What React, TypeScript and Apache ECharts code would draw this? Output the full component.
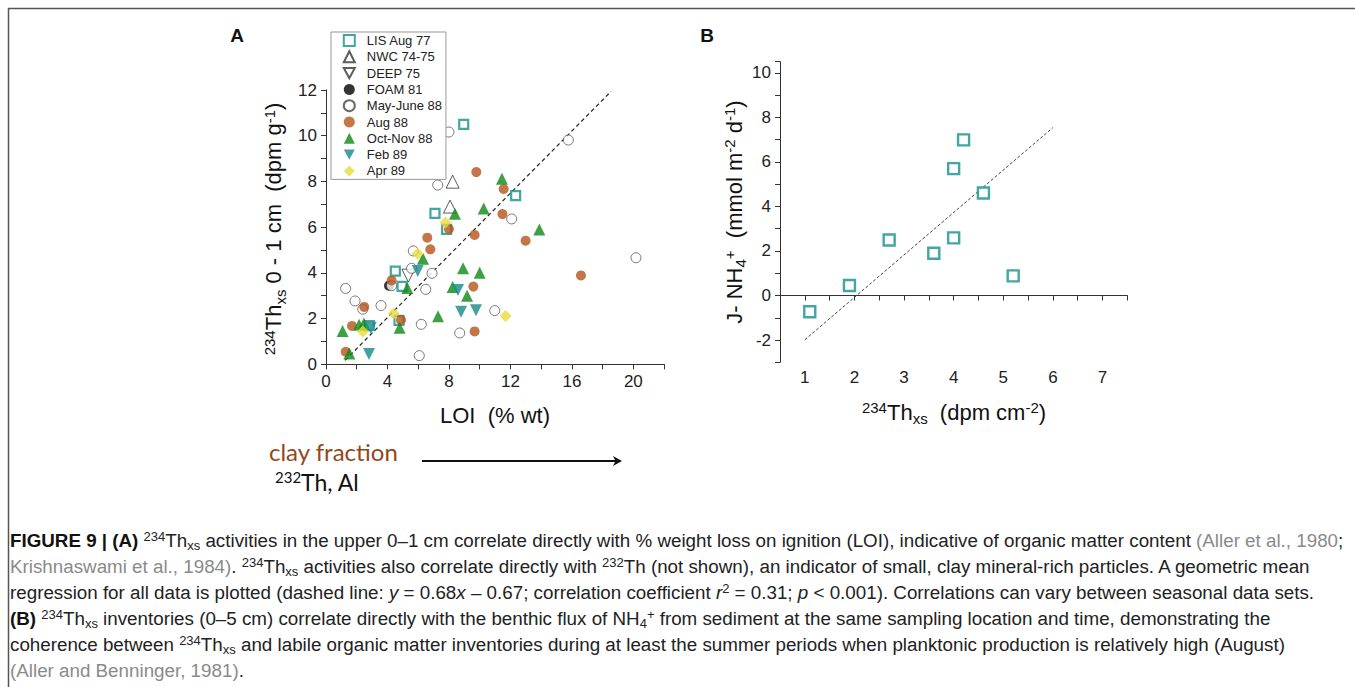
import React, { useEffect, useRef } from 'react';
import * as echarts from 'echarts';

const FONT = "'Liberation Sans', Arial, Helvetica, sans-serif";

// ---------- Panel A data: LOI (% wt) vs 234Th xs (dpm g-1) ----------
const lisX = [8.96, 12.34, 7.09, 7.85, 4.51, 4.95, 4.75, 2.82];
const lisY = [10.5, 7.38, 6.6, 5.9, 4.08, 3.41, 1.92, 1.69];
const nwcX = [8.24, 8.07];
const nwcY = [7.99, 6.9];
const deepX = [5.36];
const deepY = [3.88];
const foamX = [4.1];
const foamY = [3.44];
const mayX = [8.0, 15.77, 7.27, 12.08, 20.17, 5.68, 5.57, 6.9, 6.49, 4.27, 1.28, 1.89, 2.39, 3.58, 6.2, 10.98, 8.7, 6.07];
const mayY = [10.16, 9.81, 7.84, 6.36, 4.66, 4.96, 4.2, 3.98, 3.28, 3.44, 3.32, 2.77, 2.41, 2.57, 1.75, 2.35, 1.37, 0.38];
const aug88X = [9.78, 11.56, 11.48, 8.0, 9.67, 6.59, 6.79, 12.99, 16.59, 4.27, 9.59, 2.49, 1.69, 4.88, 9.67, 1.28];
const aug88Y = [8.41, 7.67, 6.57, 5.92, 5.66, 5.54, 5.03, 5.41, 3.89, 3.67, 3.4, 2.51, 1.68, 1.94, 1.44, 0.55];
const octX = [11.45, 10.26, 8.39, 13.88, 6.31, 8.92, 10.0, 5.29, 8.24, 9.18, 7.29, 1.08, 2.15, 2.47, 4.79, 1.52];
const octY = [8.12, 6.82, 6.59, 5.9, 4.62, 4.2, 4.01, 3.34, 3.38, 3.0, 2.1, 1.46, 1.73, 1.79, 1.6, 0.47];
const febX = [5.97, 8.59, 8.79, 9.76, 2.91, 2.8];
const febY = [4.08, 3.25, 2.3, 2.36, 1.6, 0.45];
const aprX = [7.77, 5.97, 4.4, 11.69, 2.39];
const aprY = [6.2, 4.84, 2.22, 2.11, 1.43];
const regAX = [1.24, 18.55];
const regAY = [0.17, 11.94];

// ---------- Panel B data: 234Th xs (dpm cm-2) vs J-NH4+ ----------
const bX = [1.1, 1.9, 2.7, 3.6, 4.0, 4.0, 4.2, 4.6, 5.2];
const bY = [-0.73, 0.45, 2.49, 1.9, 2.59, 5.7, 6.99, 4.6, 0.88];
const regBX = [1.0, 6.0];
const regBY = [-1.99, 7.54];

const legendNames = ['LIS Aug 77', 'NWC 74-75', 'DEEP 75', 'FOAM 81', 'May-June 88', 'Aug 88', 'Oct-Nov 88', 'Feb 89', 'Apr 89'];

const zip = (xs: number[], ys: number[]) => xs.map((x, i) => [x, ys[i]]);

const TEAL = '#13908b';
const DOWN = 'path://M0,0L12,0L6,11Z';

const stylesA: Record<string, any> = {
  'LIS Aug 77': { d: [lisX, lisY], symbol: 'rect', size: 9, itemStyle: { color: '#fff', borderColor: TEAL, borderWidth: 2.2 } },
  'NWC 74-75': { d: [nwcX, nwcY], symbol: 'triangle', size: 13, itemStyle: { color: '#fff', borderColor: '#333', borderWidth: 1 } },
  'DEEP 75': { d: [deepX, deepY], symbol: DOWN, size: 13, itemStyle: { color: '#fff', borderColor: '#333', borderWidth: 1 } },
  'FOAM 81': { d: [foamX, foamY], symbol: 'circle', size: 10, itemStyle: { color: '#000' } },
  'May-June 88': { d: [mayX, mayY], symbol: 'circle', size: 10, itemStyle: { color: '#fff', borderColor: '#444', borderWidth: 0.9 } },
  'Aug 88': { d: [aug88X, aug88Y], symbol: 'circle', size: 10, itemStyle: { color: '#b4541a' } },
  'Oct-Nov 88': { d: [octX, octY], symbol: 'triangle', size: 12, itemStyle: { color: '#0c8a14' } },
  'Feb 89': { d: [febX, febY], symbol: DOWN, size: 12, itemStyle: { color: '#15898a' } },
  'Apr 89': { d: [aprX, aprY], symbol: 'diamond', size: 12, itemStyle: { color: '#e6dc3a' } },
};

const tickLabel = { fontSize: 17, fontFamily: FONT, color: '#222' };
const axisLine = { show: true, lineStyle: { color: '#333', width: 1 } };

const T = 22; // title font
const S = 15; // sup/sub font
const titleRich = {
  n: { fontSize: T, fontFamily: FONT, fill: '#111', lineHeight: 24 },
  sup: { fontSize: S, fontFamily: FONT, fill: '#111', verticalAlign: 'top', height: 15, lineHeight: 15 },
  sub: { fontSize: S, fontFamily: FONT, fill: '#111', verticalAlign: 'bottom', height: 11, lineHeight: 11 },
};

const C = 18.8; // caption font
const CS = 13;
const capRich = {
  n: { fontSize: C, fontFamily: FONT, fill: '#222', lineHeight: 22 },
  b: { fontSize: C, fontFamily: FONT, fill: '#111', fontWeight: 'bold', lineHeight: 22 },
  g: { fontSize: C, fontFamily: FONT, fill: '#8a8a8a', lineHeight: 22 },
  i: { fontSize: C, fontFamily: FONT, fill: '#222', fontStyle: 'italic', lineHeight: 22 },
  sup: { fontSize: CS, fontFamily: FONT, fill: '#222', verticalAlign: 'top', height: 15, lineHeight: 15 },
  sub: { fontSize: CS, fontFamily: FONT, fill: '#222', verticalAlign: 'bottom', height: 12, lineHeight: 12 },
};

const captionLines = [
  '{b|FIGURE 9 | (A)}{n| }{sup|234}{n|Th}{sub|xs}{n| activities in the upper 0–1 cm correlate directly with % weight loss on ignition (LOI), indicative of organic matter content }{g|(Aller et al., 1980}{n|;}',
  '{g|Krishnaswami et al., 1984)}{n|. }{sup|234}{n|Th}{sub|xs}{n| activities also correlate directly with }{sup|232}{n|Th (not shown), an indicator of small, clay mineral-rich particles. A geometric mean}',
  '{n|regression for all data is plotted (dashed line: }{i|y}{n| = 0.68}{i|x}{n| – 0.67; correlation coefficient }{i|r}{sup|2}{n| = 0.31; }{i|p}{n| < 0.001). Correlations can vary between seasonal data sets.}',
  '{b|(B)}{n| }{sup|234}{n|Th}{sub|xs}{n| inventories (0–5 cm) correlate directly with the benthic flux of NH}{sub|4}{sup|+}{n| from sediment at the same sampling location and time, demonstrating the}',
  '{n|coherence between }{sup|234}{n|Th}{sub|xs}{n| and labile organic matter inventories during at least the summer periods when planktonic production is relatively high (August)}',
  '{g|(Aller and Benninger, 1981)}{n|.}',
];

function buildOption(): any {
  const series: any[] = legendNames.map((name) => {
    const s = stylesA[name];
    return {
      name,
      type: 'scatter',
      xAxisIndex: 0,
      yAxisIndex: 0,
      data: zip(s.d[0], s.d[1]),
      symbol: s.symbol,
      symbolSize: s.size,
      itemStyle: s.itemStyle,
      silent: true,
    };
  });
  series.push({
    name: 'regA',
    type: 'line',
    xAxisIndex: 0,
    yAxisIndex: 0,
    data: zip(regAX, regAY),
    symbol: 'none',
    lineStyle: { color: '#222', width: 1.2, type: [4, 3] },
    silent: true,
    z: 1,
  });
  series.push({
    name: 'B',
    type: 'scatter',
    xAxisIndex: 1,
    yAxisIndex: 1,
    data: zip(bX, bY),
    symbol: 'rect',
    symbolSize: 11,
    itemStyle: { color: '#fff', borderColor: TEAL, borderWidth: 2.4 },
    silent: true,
  });
  series.push({
    name: 'regB',
    type: 'line',
    xAxisIndex: 1,
    yAxisIndex: 1,
    data: zip(regBX, regBY),
    symbol: 'none',
    lineStyle: { color: '#444', width: 1, type: [3, 2] },
    silent: true,
    z: 1,
  });

  const captionGraphics = captionLines.map((t, i) => ({
    type: 'text',
    x: 10,
    y: 540 + i * 26,
    style: { text: t, rich: capRich, align: 'left', verticalAlign: 'middle', fontSize: C, fontFamily: FONT, fill: '#222' },
  }));

  return {
    animation: false,
    backgroundColor: '#fff',
    grid: [
      { left: 326, top: 90, width: 338.1, height: 274.3 },
      { left: 780, top: 61.7, width: 347.3, height: 300.6 },
    ],
    xAxis: [
      {
        type: 'value', gridIndex: 0, min: 0, max: 22, interval: 2,
        axisLine, splitLine: { show: false },
        axisTick: { show: true, length: 5, lineStyle: { color: '#333' } },
        axisLabel: { ...tickLabel, margin: 9, formatter: (v: number) => (v % 4 === 0 && v <= 20 ? String(v) : '') },
      },
      {
        type: 'value', gridIndex: 1, min: 0.5, max: 7.5, interval: 0.5,
        axisLine, splitLine: { show: false },
        axisTick: { show: true, length: 5, lineStyle: { color: '#333' } },
        axisLabel: { ...tickLabel, margin: 7, formatter: (v: number) => (Math.abs(v - Math.round(v)) < 1e-6 ? String(Math.round(v)) : '') },
      },
    ],
    yAxis: [
      {
        type: 'value', gridIndex: 0, min: 0, max: 12, interval: 1,
        axisLine, splitLine: { show: false },
        axisTick: { show: true, length: 5, lineStyle: { color: '#333' } },
        axisLabel: { ...tickLabel, margin: 9, formatter: (v: number) => (v % 2 === 0 ? String(v) : '') },
      },
      {
        type: 'value', gridIndex: 1, min: -3, max: 10.5, interval: 1,
        axisLine, splitLine: { show: false },
        axisTick: { show: true, length: 5, lineStyle: { color: '#333' } },
        axisLabel: {
          ...tickLabel, margin: 9,
          formatter: (v: number) => (Math.abs(v - Math.round(v)) < 1e-6 && Math.round(v) % 2 === 0 ? String(Math.round(v)) : ''),
        },
      },
    ],
    legend: {
      data: legendNames,
      orient: 'vertical',
      left: 331,
      top: 32,
      padding: [2, 4, 2, 11.8],
      itemGap: 3.3,
      itemWidth: 11,
      itemHeight: 11,
      symbolKeepAspect: true,
      textStyle: { fontSize: 13, fontFamily: FONT, color: '#222', lineHeight: 13, padding: [0, 0, 0, 7] },
      borderColor: '#999',
      borderWidth: 1,
      backgroundColor: '#fff',
      selectedMode: false,
    },
    series,
    graphic: [
      { type: 'line', shape: { x1: 8, y1: 8.5, x2: 1355, y2: 8.5 }, style: { stroke: '#555', lineWidth: 1.5 } },
      { type: 'line', shape: { x1: 8.5, y1: 8, x2: 8.5, y2: 687 }, style: { stroke: '#555', lineWidth: 1.5 } },
      { type: 'text', x: 237, y: 35.5, style: { text: 'A', fontSize: 19, fontWeight: 'bold', fontFamily: FONT, fill: '#111', align: 'center', verticalAlign: 'middle' } },
      { type: 'text', x: 707, y: 35.5, style: { text: 'B', fontSize: 19, fontWeight: 'bold', fontFamily: FONT, fill: '#111', align: 'center', verticalAlign: 'middle' } },
      {
        type: 'text', x: 273.5, y: 229, rotation: Math.PI / 2,
        style: { text: '{sup|234}{n|Th}{sub|xs}{n| 0 - 1 cm  (dpm g}{sup|-1}{n|)}', rich: titleRich, align: 'center', verticalAlign: 'middle' },
      },
      {
        type: 'text', x: 495, y: 415.3,
        style: { text: '{n|LOI  (% wt)}', rich: titleRich, align: 'center', verticalAlign: 'middle' },
      },
      {
        type: 'text', x: 734, y: 212, rotation: Math.PI / 2,
        style: { text: '{n|J- NH}{sub|4}{sup|+}{n|  (mmol m}{sup|-2}{n| d}{sup|-1}{n|)}', rich: titleRich, align: 'center', verticalAlign: 'middle' },
      },
      {
        type: 'text', x: 954, y: 412.3,
        style: { text: '{sup|234}{n|Th}{sub|xs}{n|  (dpm cm}{sup|-2}{n|)}', rich: titleRich, align: 'center', verticalAlign: 'middle' },
      },
      {
        type: 'text', x: 269, y: 451,
        style: { text: 'clay fraction', fontSize: 24, fontFamily: 'Lato, "Open Sans", sans-serif', fill: '#96471a', align: 'left', verticalAlign: 'middle' },
      },
      {
        type: 'text', x: 275, y: 482,
        style: {
          text: '{s|232}{m|Th, Al}',
          rich: {
            s: { fontSize: 15, fontFamily: 'Lato, sans-serif', fill: '#111', verticalAlign: 'top', height: 16, lineHeight: 16 },
            m: { fontSize: 23, fontFamily: 'Lato, sans-serif', fill: '#111', lineHeight: 26 },
          },
          align: 'left', verticalAlign: 'middle',
        },
      },
      { type: 'line', shape: { x1: 422, y1: 461, x2: 618, y2: 461 }, style: { stroke: '#111', lineWidth: 2 } },
      { type: 'polygon', shape: { points: [[613, 456], [622, 461], [613, 466], [615.5, 461]] }, style: { fill: '#111' } },
      ...captionGraphics,
    ],
  };
}

export default function App() {
  const ref = useRef<HTMLDivElement>(null);
  useEffect(() => {
    const chart = echarts.init(ref.current as HTMLDivElement, null, { renderer: 'svg' });
    chart.setOption(buildOption());
    return () => chart.dispose();
  }, []);
  return (
    <div
      ref={ref}
      style={{ position: 'fixed', left: 0, top: 0, width: 1355, height: 687, background: '#fff' }}
    />
  );
}
